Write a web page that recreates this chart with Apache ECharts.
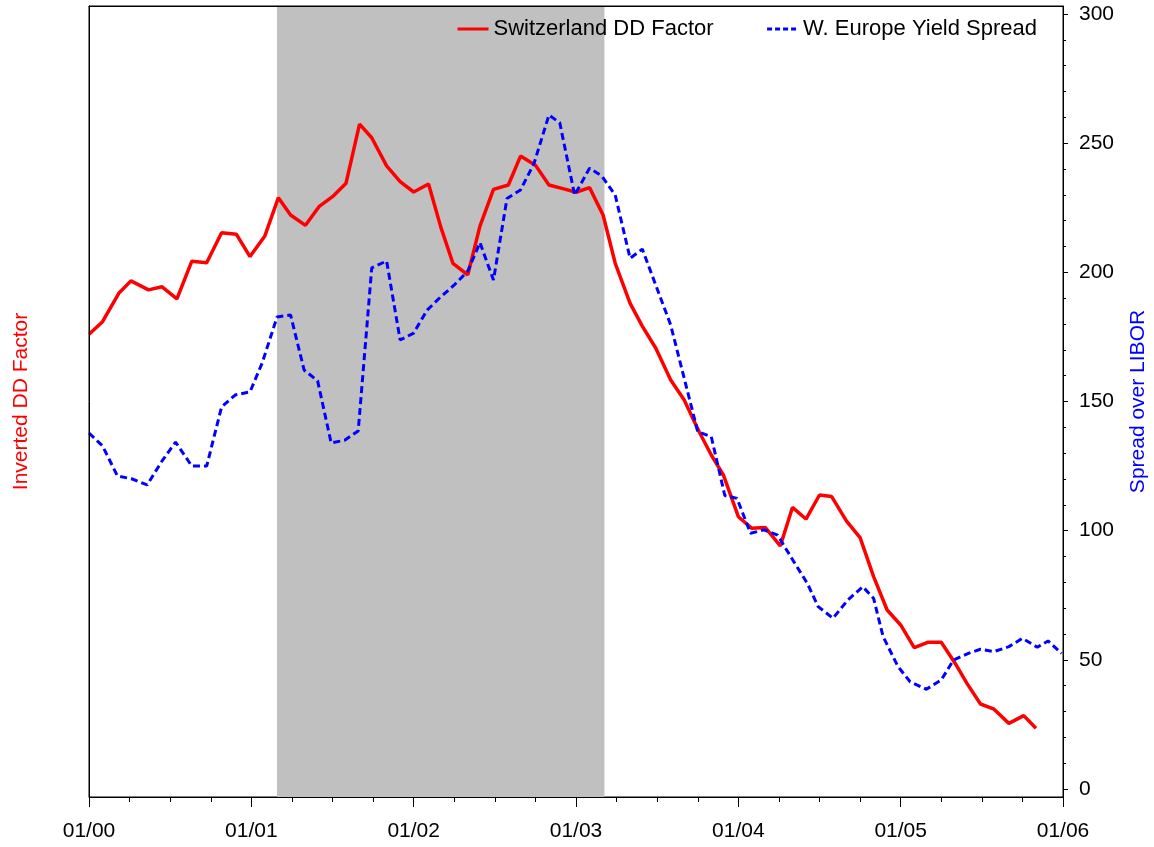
<!DOCTYPE html>
<html>
<head>
<meta charset="utf-8">
<script src="https://cdn.jsdelivr.net/npm/echarts@6/dist/echarts.min.js"></script>
<style>
  html, body { margin: 0; padding: 0; background: #fff; }
  #chart { width: 1154px; height: 847px; }
</style>
</head>
<body>
<div id="chart"></div>
<script>
// x values are months counted from January 2000
const xTickLabels = ['01/00', '01/01', '01/02', '01/03', '01/04', '01/05', '01/06'];
const yTickLabels = [0, 50, 100, 150, 200, 250, 300];
const yMinorTicks = [0,10,20,30,40,50,60,70,80,90,100,110,120,130,140,150,160,170,180,190,200,210,220,230,240,250,260,270,280,290,300];

// shaded period (months)
const shadeStart = 13.9;
const shadeEnd = 38.1;

const ddMonths = [0, 1.0, 2.2, 3.1, 4.4, 5.4, 6.5, 7.6, 8.7, 9.8, 10.9, 11.9, 13.0, 14.0, 14.9, 16.0, 17.0, 18.0, 19.0, 20.0,
  20.9, 22.0, 23.0, 24.0, 25.1, 26.0, 26.9, 28.0, 28.9, 29.9, 31.0, 31.9, 33.0, 34.0, 35.1, 36.0, 37.0, 38.0, 38.9, 40.0,
  40.9, 41.9, 43.0, 44.0, 45.1, 46.0, 46.9, 48.0, 49.0, 50.0, 51.1, 52.0, 53.0, 54.0, 54.9, 56.0, 57.0, 58.0, 59.0, 60.0,
  61.0, 62.0, 63.0, 64.0, 64.9, 65.9, 66.9, 68.0, 69.1, 70.0];
const ddValues = [176.0, 180.9, 191.9, 196.7, 193.2, 194.4, 189.7, 204.3, 203.7, 215.3, 214.7, 206.1, 214.1, 228.9, 222.2, 218.2, 225.4, 229.3, 234.5, 257.4,
  252.1, 241.2, 235.1, 231.1, 234.2, 217.6, 203.5, 199.0, 217.9, 232.1, 233.8, 245.0, 241.5, 233.8, 232.3, 231.0, 232.8, 222.2, 203.5, 188.0,
  179.2, 170.6, 158.3, 150.6, 138.3, 129.3, 121.5, 105.4, 100.9, 101.2, 94.1, 109.0, 104.5, 113.8, 113.2, 103.7, 97.3, 82.2, 69.3, 63.5,
  54.7, 56.8, 56.8, 48.9, 40.9, 32.9, 30.9, 25.4, 28.4, 23.5];

const spreadMonths = [0, 1.0, 2.1, 3.2, 4.3, 5.4, 6.4, 7.6, 8.7, 9.8, 10.8, 11.9, 12.8, 13.9, 14.9, 15.9, 16.9, 17.9, 18.9, 19.9,
  20.9, 22.0, 23.0, 24.0, 25.0, 26.0, 27.0, 28.0, 28.9, 29.9, 30.9, 31.9, 32.9, 34.0, 34.8, 35.9, 37.0, 37.9, 38.9, 40.0,
  40.9, 43.0, 45.0, 46.0, 47.0, 47.9, 48.9, 49.9, 50.9, 52.1, 53.1, 53.9, 55.0, 56.1, 57.2, 58.0, 58.7, 59.8, 60.7, 61.9,
  63.0, 63.9, 65.0, 65.9, 66.9, 68.0, 69.0, 70.1, 70.9, 71.9];
const spreadValues = [137.8, 132.8, 121.2, 120.0, 117.7, 127.0, 134.3, 125.0, 125.0, 147.9, 152.5, 153.7, 164.9, 182.7, 183.5, 162.2, 158.0, 134.0, 135.0, 138.6,
  201.7, 204.4, 173.8, 176.5, 185.4, 190.5, 195.1, 200.5, 211.5, 197.0, 228.6, 231.9, 242.2, 260.9, 257.9, 229.9, 240.3, 237.3, 229.9, 205.4,
  209.0, 179.6, 138.3, 136.4, 113.6, 112.5, 99.0, 100.3, 98.3, 88.0, 79.6, 70.6, 66.1, 73.2, 78.3, 73.8, 59.0, 47.4, 41.5, 38.6,
  42.2, 49.9, 52.5, 54.1, 53.2, 55.1, 58.3, 54.9, 57.3, 52.5];

const pair = (xs, ys) => xs.map((x, i) => [x, ys[i]]);

const FONT = "'Liberation Sans', Arial, sans-serif";
const Y_MIN = -3.1, Y_MAX = 303.1;

const chart = echarts.init(document.getElementById('chart'), null, { renderer: 'canvas' });

chart.setOption({
  animation: false,
  backgroundColor: '#ffffff',
  textStyle: { fontFamily: FONT },
  grid: {
    left: 89, right: 91, top: 6, bottom: 50,
    outerBoundsMode: 'none', containLabel: false,
    show: true, borderColor: '#000', borderWidth: 1, backgroundColor: 'transparent'
  },
  legend: {
    left: 456, top: 18, padding: 0,
    itemWidth: 31, itemHeight: 14, itemGap: 52,
    textStyle: { fontSize: 22, color: '#000', fontFamily: FONT },
    data: [
      { name: 'Switzerland DD Factor', itemStyle: { opacity: 0 }, lineStyle: { color: '#ff0000', width: 3, type: 'solid' } },
      { name: 'W. Europe Yield Spread', itemStyle: { opacity: 0 }, lineStyle: { color: '#0000ff', width: 3, type: [5, 3] } }
    ]
  },
  xAxis: [{
    type: 'value', min: 0, max: 72, interval: 12, z: 10,
    axisLine: { show: true, onZero: false, lineStyle: { color: '#000', width: 1 } },
    axisTick: { show: true, length: 10, lineStyle: { color: '#000' } },
    minorTick: { show: true, splitNumber: 4, length: 5, lineStyle: { color: '#000' } },
    splitLine: { show: false },
    axisLabel: {
      margin: 24, fontSize: 21, color: '#000', fontFamily: FONT,
      formatter: v => xTickLabels[Math.round(v / 12)]
    }
  }, {
    type: 'value', position: 'top', min: 0, max: 72, z: 10,
    axisLine: { show: true, onZero: false, lineStyle: { color: '#000', width: 1 } },
    axisTick: { show: false }, axisLabel: { show: false }, splitLine: { show: false }
  }],
  yAxis: [{
    type: 'value', position: 'left', min: Y_MIN, max: Y_MAX, z: 10,
    name: 'Inverted DD Factor', nameLocation: 'middle', nameGap: 57, nameRotate: 90,
    nameTextStyle: { color: '#ff0000', fontSize: 21, fontFamily: FONT },
    axisLine: { show: true, onZero: false, lineStyle: { color: '#000', width: 1 } },
    axisTick: { show: false }, axisLabel: { show: false }, splitLine: { show: false }
  }, {
    type: 'value', position: 'right', min: Y_MIN, max: Y_MAX, z: 10,
    name: 'Spread over LIBOR', nameLocation: 'middle', nameGap: 65, nameRotate: 90,
    nameTextStyle: { color: '#0000ff', fontSize: 21, fontFamily: FONT },
    axisLine: { show: true, onZero: false, lineStyle: { color: '#000', width: 1 } },
    axisTick: { show: true, length: 5, customValues: yTickLabels, lineStyle: { color: '#000' } },
    axisLabel: { show: true, margin: 16, fontSize: 21, color: '#000', fontFamily: FONT, customValues: yTickLabels },
    splitLine: { show: false }
  }, {
    type: 'value', position: 'right', min: Y_MIN, max: Y_MAX, z: 10,
    axisLine: { show: false, onZero: false },
    axisTick: { show: true, length: 3, customValues: yMinorTicks, lineStyle: { color: '#000' } },
    axisLabel: { show: false, customValues: yMinorTicks },
    splitLine: { show: false }
  }],
  series: [{
    name: 'shade', type: 'line', data: [], xAxisIndex: 0, yAxisIndex: 1, z: 1, silent: true,
    markArea: {
      silent: true,
      itemStyle: { color: '#c0c0c0' },
      data: [[{ xAxis: shadeStart }, { xAxis: shadeEnd }]]
    }
  }, {
    name: 'Switzerland DD Factor', type: 'line', xAxisIndex: 0, yAxisIndex: 0, z: 3,
    data: pair(ddMonths, ddValues),
    showSymbol: false, symbol: 'none',
    lineStyle: { color: '#ff0000', width: 3.5 },
    itemStyle: { color: '#ff0000' }
  }, {
    name: 'W. Europe Yield Spread', type: 'line', xAxisIndex: 0, yAxisIndex: 1, z: 4,
    data: pair(spreadMonths, spreadValues),
    showSymbol: false, symbol: 'none',
    lineStyle: { color: '#0000ff', width: 3, type: [7, 4] },
    itemStyle: { color: '#0000ff' }
  }]
});
</script>
</body>
</html>
